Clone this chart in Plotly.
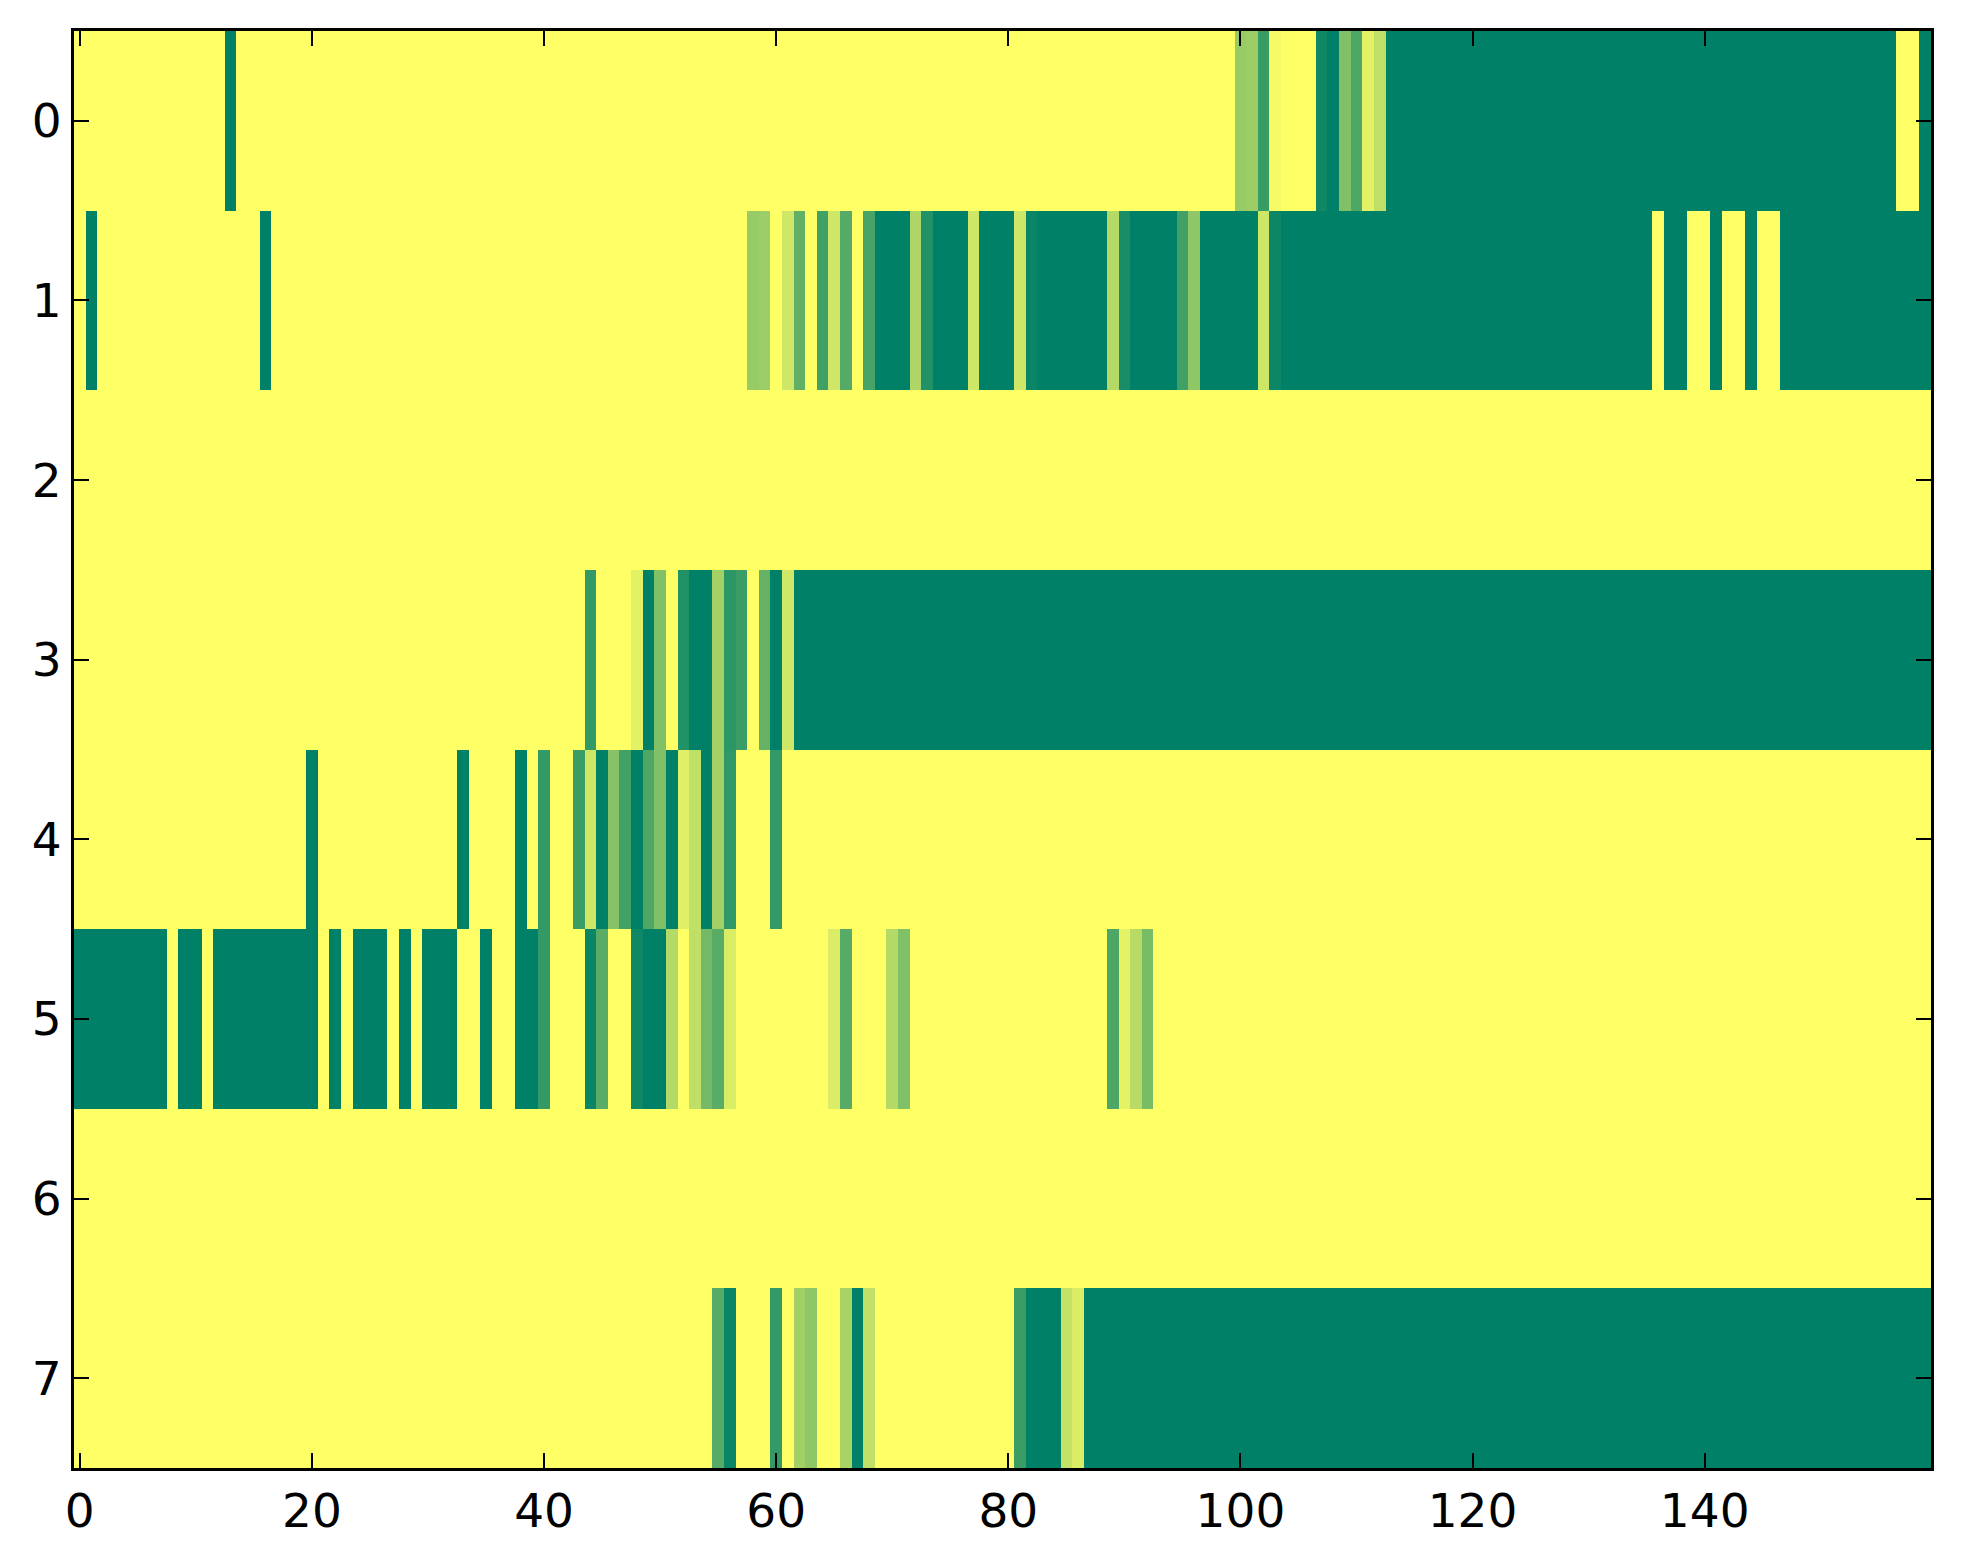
import plotly.graph_objects as go

# one list per row of the image, 160 columns each (0 = yellow, 1 = dark green)
row_0 = [0] * 13 + [1] + [0] * 86 + [0.41, 0.39, 0.78, 0.04] + [0] * 3 + \
    [0.94, 1, 0.5, 0.69, 0.11, 0.25] + [1] * 44 + [0] * 2 + [1]
row_1 = [0, 1] + [0] * 14 + [1] + [0] * 41 + \
    [0.41, 0.39, 0, 0.19, 0.62, 0, 0.75, 0.19, 0.67, 0, 0.72] + [1] * 3 + \
    [0.32, 0.87] + [1] * 3 + [0.19] + [1] * 3 + [0.19, 0.96] + [1] * 6 + \
    [0.3, 0.9] + [1] * 4 + [0.75, 0.44] + [1] * 5 + [0.2, 0.95] + [1] * 32 + \
    [0] + [1] * 2 + [0] * 2 + [1] + [0] * 2 + [1] + [0] * 2 + [1] * 13
row_2 = [0] * 160
row_3 = [0] * 44 + [0.8] + [0] * 3 + \
    [0.11, 1, 0.5, 0, 0.87, 1, 1, 0.36, 0.83, 0.77, 0, 0.6, 1, 0.19] + [1] * 98
row_4 = [0] * 20 + [1] + [0] * 12 + [1] + [0] * 4 + [1, 0, 0.8] + [0] * 2 + \
    [0.77, 0.19, 1, 0.47, 0.74, 1, 0.69, 0.5, 1, 0.12, 0.25, 1, 0.36, 0.81] + \
    [0] * 3 + [0.8] + [0] * 99
row_5 = [1] * 8 + [0] + [1] * 2 + [0] + [1] * 9 + [0, 1, 0] + [1] * 3 + \
    [0, 1, 0] + [1] * 3 + [0] * 2 + [1] + [0] * 2 + [1] * 2 + [0.8] + [0] * 3 + \
    [0.96, 0.65] + [0] * 2 + [0.94] + [1] * 2 + [0.3, 0, 0.25, 0.55, 0.65, 0.15] + \
    [0] * 8 + [0.14, 0.66] + [0] * 3 + [0.3, 0.5] + [0] * 17 + \
    [0.7, 0.1, 0.28, 0.53] + [0] * 67
row_6 = [0] * 160
row_7 = [0] * 55 + [0.66, 0.96] + [0] * 3 + [0.8, 0, 0.37, 0.44] + [0] * 2 + \
    [0.34, 1, 0.25] + [0] * 12 + [0.77] + [1] * 3 + [0.23, 0.14] + [1] * 73

rows = [row_0, row_1, row_2, row_3, row_4, row_5, row_6, row_7]
cols = list(range(160))
row_ids = list(range(8))
x_ticks = [0, 20, 40, 60, 80, 100, 120, 140]

# matplotlib summer_r
summer_r = [[0, 'rgb(255,255,102)'], [1, 'rgb(0,128,102)']]

fig = go.Figure()
fig.add_trace(go.Heatmap(
    z=rows,
    x=cols,
    y=row_ids,
    colorscale=summer_r,
    zmin=0,
    zmax=1,
    showscale=False,
    hoverinfo='x+y+z'
))

axis_style = dict(
    showline=True,
    linecolor='black',
    linewidth=3,
    mirror='allticks',
    ticks='inside',
    ticklen=15,
    tickwidth=1.5,
    tickcolor='black',
    showgrid=False,
    zeroline=False,
    tickfont=dict(family='DejaVu Sans', size=47, color='black'),
)

fig.update_xaxes(range=[-0.5, 159.5], tickvals=x_ticks, **axis_style)
fig.update_yaxes(range=[7.5, -0.5], tickvals=row_ids, **axis_style)

# page body has an 8px margin, so the figure is a bit smaller than the window
fig.update_layout(
    width=1955,
    height=1556,
    margin=dict(l=66, r=32, t=23, b=96),
    paper_bgcolor='white',
    plot_bgcolor='white',
    showlegend=False
)

fig.write_html('out.html')
